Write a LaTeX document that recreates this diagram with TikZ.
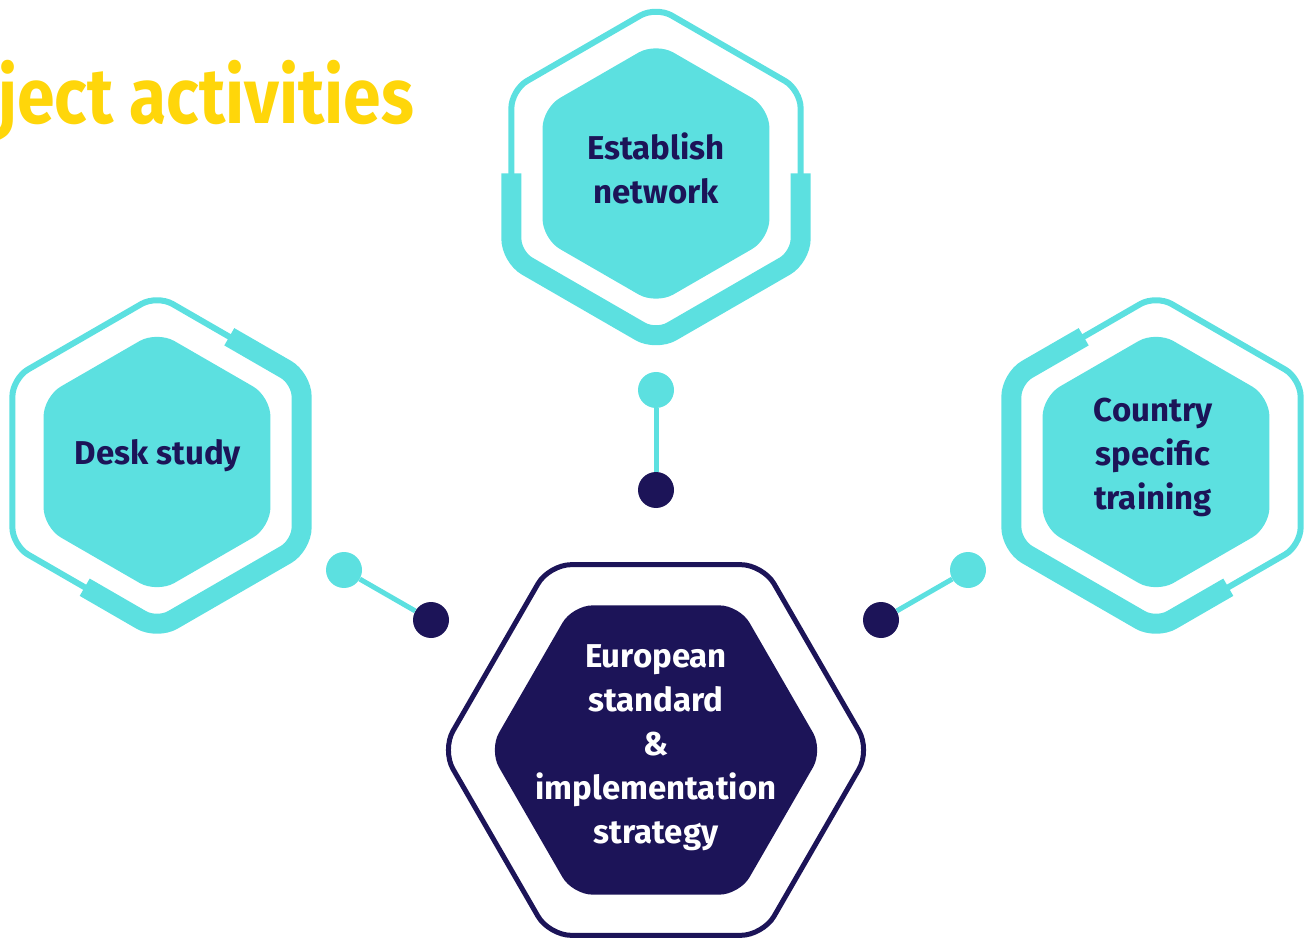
\documentclass[tikz,border=0pt]{standalone}
\usepackage{fontspec}
\setmainfont{Fira Sans}
\usepackage{xcolor}
\usepackage{tikz}
\usetikzlibrary{positioning}

\definecolor{hexcyan}{HTML}{5CE0E0}
\definecolor{hexnavy}{HTML}{1C1458}
\definecolor{titleyellow}{HTML}{FFD60A}

\begin{document}
\begin{tikzpicture}[x=1pt,y=1pt]
	\tikzstyle{rim}=[draw=hexcyan, line width=6pt, rounded corners=18pt]
	\tikzstyle{thickrim}=[draw=hexcyan, line width=20pt, rounded corners=18pt, line cap=butt]
	\tikzstyle{core}=[fill=hexcyan, rounded corners=20pt]
	\tikzstyle{label}=[align=center, text=hexnavy, font=\fontsize{33}{44}\selectfont\bfseries]
	\tikzstyle{cyandot}=[circle, fill=hexcyan, minimum size=36pt, inner sep=0pt]
	\tikzstyle{navydot}=[circle, fill=hexnavy, minimum size=36pt, inner sep=0pt]
	\tikzstyle{link}=[draw=hexcyan, line width=5pt]
	\useasboundingbox (0,0) rectangle (1308,938);

	% title
	\node[anchor=base west, inner sep=0pt, text=titleyellow, xscale=0.87,
		font=\fontsize{78}{78}\selectfont\bfseries] (title) at (-2,814) {ject activities};

	% establish network
	\begin{scope}[shift={(656,764.5)}]
		\fill[core] (0:113.4) -- (30:131) -- (90:131) -- (150:131) -- (210:131) -- (270:131) -- (330:131) -- cycle;
		\draw[rim] (0:144.6) -- (30:167) -- (90:167) -- (150:167) -- (210:167) -- (270:167) -- (330:167) -- cycle;
		\draw[thickrim] (180:144.6) -- (210:167) -- (270:167) -- (330:167) -- (0:144.6);
	\end{scope}
	\node[label](est) at (656,770){Establish\\network};

	% desk study
	\begin{scope}[shift={(157,476)}]
		\fill[core] (0:113.4) -- (30:131) -- (90:131) -- (150:131) -- (210:131) -- (270:131) -- (330:131) -- cycle;
		\draw[rim] (0:144.6) -- (30:167) -- (90:167) -- (150:167) -- (210:167) -- (270:167) -- (330:167) -- cycle;
		\draw[thickrim] (240:144.6) -- (270:167) -- (330:167) -- (30:167) -- (60:144.6);
	\end{scope}
	\node[label](desk) at (158,482){Desk study};

	% country specific training
	\begin{scope}[shift={(1156,476)}]
		\fill[core] (0:113.4) -- (30:131) -- (90:131) -- (150:131) -- (210:131) -- (270:131) -- (330:131) -- cycle;
		\draw[rim] (0:144.6) -- (30:167) -- (90:167) -- (150:167) -- (210:167) -- (270:167) -- (330:167) -- cycle;
		\draw[thickrim] (120:144.6) -- (150:167) -- (210:167) -- (270:167) -- (300:144.6);
	\end{scope}
	\node[label](country) at (1153,481){Country\\specific\\training};

	% european standard
	\begin{scope}[shift={(656,188)}]
		\fill[hexnavy, rounded corners=20pt] (90:144.6) -- (120:167) -- (180:167) -- (240:167) -- (300:167) -- (0:167) -- (60:167) -- cycle;
		\draw[draw=hexnavy, line width=5pt, rounded corners=22pt] (90:185.3) -- (120:214) -- (180:214) -- (240:214) -- (300:214) -- (0:214) -- (60:214) -- cycle;
	\end{scope}
	\node[label, text=white](eur) at (656,190){European\\standard\\\&\\implementation\\strategy};

	% connectors
	\node[cyandot](topc) at (656,548){};
	\node[navydot](topn) at (656,448){};
	\node[cyandot](leftc) at (344,368){};
	\node[navydot](leftn) at (431,318){};
	\node[cyandot](rightc) at (968,368){};
	\node[navydot](rightn) at (881,318){};
	\path[link]
		(topc) edge (topn)
		(leftc) edge (leftn)
		(rightc) edge (rightn);
\end{tikzpicture}
\end{document}
